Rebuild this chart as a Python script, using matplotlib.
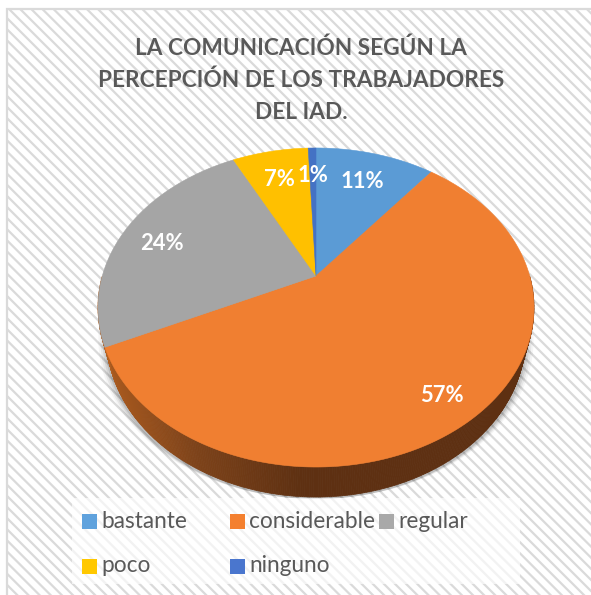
# Importing the libraries
import numpy as np
import matplotlib.pyplot as plt
from matplotlib.patches import Polygon, Rectangle

# Chart values
categories = ['bastante', 'considerable', 'regular', 'poco', 'ninguno']
values = [10.7, 57.3, 24.5, 6.8, 0.7]
pct_labels = ['11%', '57%', '24%', '7%', '1%']
title = 'LA COMUNICACIÓN SEGÚN LA\nPERCEPCIÓN DE LOS TRABAJADORES\nDEL IAD.'

# Styles
colors = ['#5B9BD5', '#F07F31', '#A5A5A5', '#FFC000', '#4472C4']
legend_colors = ['#5FA2DD', '#F4802F', '#A9A9A9', '#FFC800', '#4A76CE']
text_color = '#595959'

plt.rcParams['font.family'] = ['Lato', 'DejaVu Sans']
plt.rcParams['hatch.linewidth'] = 1.6
plt.rcParams['hatch.color'] = '#F8F8F8'

fig = plt.figure(figsize=(5.91, 5.95), dpi=100)
ax = fig.add_axes([0, 0, 1, 1])
ax.set_xlim(0, 591)
ax.set_ylim(595, 0)
ax.axis('off')

# Background with the diagonal stripes
ax.add_patch(Rectangle((7, 9), 600, 600, facecolor='white', edgecolor='#DADADA',
                       linewidth=1.6, hatch='\\\\\\', zorder=0))

# Tilted pie: a circle seen in perspective
cx, cy = 316, 276
rx, ry, k = 213.7, 153.3, 0.1975
depth = 30


def project(t, xscale=1.0, dy=0.0):
    # t is the clockwise angle from the top, in degrees
    a = np.radians(t)
    x, y = np.sin(a), np.cos(a)
    d = 1 + k * y
    return cx + xscale * rx * x / d, cy - ry * y / d + dy


# Soft shadow under the pie
angles = np.linspace(0, 360, 361)
for grow, alpha in zip([1.04, 1.03, 1.02, 1.01], [0.04, 0.06, 0.08, 0.10]):
    sx, sy = project(angles, 0.96 * grow, depth + 2)
    ax.fill(sx, sy, color='black', alpha=alpha, linewidth=0, zorder=1)

# Side of the pie
side_x = [100, 115, 200, 300, 600]
side_r = [0.76, 0.66, 0.49, 0.37, 0.37]
side_g = [0.42, 0.35, 0.26, 0.19, 0.19]
side_b = [0.15, 0.12, 0.10, 0.07, 0.07]
t_side = np.linspace(90, 270, 361)
tx, ty = project(t_side)
bx, by = project(t_side, 0.96, depth)
for i in range(len(t_side) - 1):
    xm = (bx[i] + bx[i + 1]) / 2
    col = (np.interp(xm, side_x, side_r), np.interp(xm, side_x, side_g), np.interp(xm, side_x, side_b))
    ax.add_patch(Polygon([(tx[i], ty[i]), (tx[i + 1], ty[i + 1]), (bx[i + 1], by[i + 1]), (bx[i], by[i])],
                         facecolor=col, edgecolor=col, linewidth=0.5, zorder=2))

# Top of the pie
start = 0
for val, col in zip(values, colors):
    end = start + val * 3.6
    t = np.linspace(start, end, 200)
    px, py = project(t)
    ax.add_patch(Polygon(np.column_stack([np.r_[cx, px], np.r_[cy, py]]), facecolor=col,
                         edgecolor=col, linewidth=0.4, zorder=3))
    start = end

# Percentage labels
label_x = [362, 442, 162, 279, 313]
label_y = [182, 396, 243, 179, 176]
for lx, ly, txt in zip(label_x, label_y, pct_labels):
    ax.text(lx, ly, txt, color='white', fontsize=15.8, fontweight='bold', ha='center', va='center', zorder=5)

# Title
ax.text(301, 80, title, color=text_color, fontsize=16.3, fontweight='bold', ha='center', va='center',
        linespacing=1.62, zorder=5)

# Legend
ax.add_patch(Rectangle((72, 498), 448, 86, facecolor='white', alpha=0.65, linewidth=0, zorder=4))
leg_x = [82, 230, 379, 82, 230]
leg_y = [521, 521, 521, 566, 566]
for name, col, lx, ly in zip(categories, legend_colors, leg_x, leg_y):
    ax.add_patch(Rectangle((lx, ly - 7), 14.5, 14.5, facecolor=col, linewidth=0, zorder=5))
    ax.text(lx + 19, ly, name, color=text_color, fontsize=16.3, ha='left', va='center', zorder=5)

fig.savefig('out.png', dpi=100)
